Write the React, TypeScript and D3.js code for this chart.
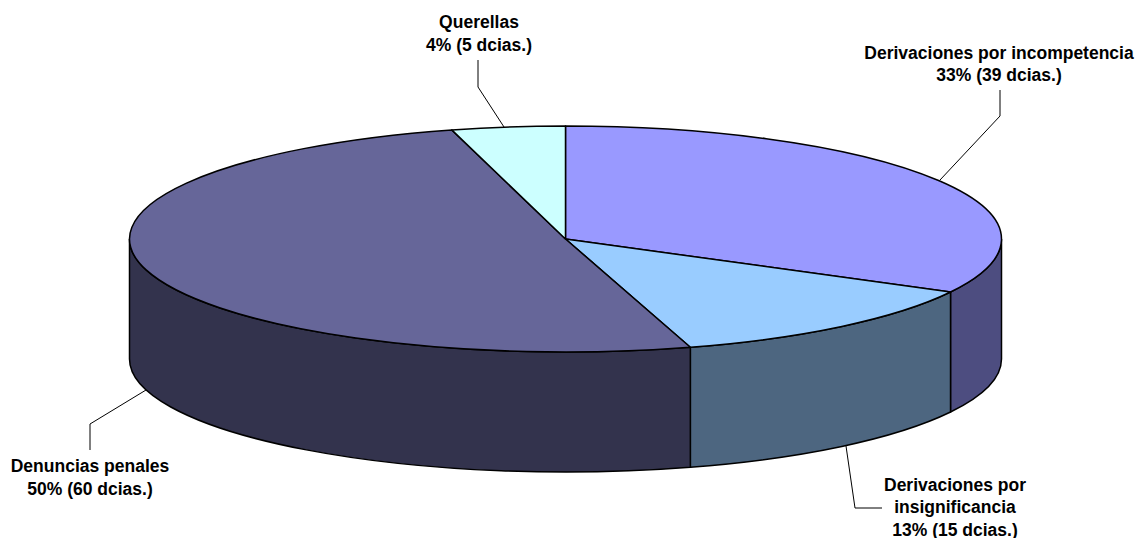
import React from "react";
import * as d3 from "d3";

const categories = [
  "Derivaciones por incompetencia",
  "Derivaciones por insignificancia",
  "Denuncias penales",
  "Querellas",
];
const counts = [39, 15, 60, 5];
const topColors = ["#9999ff", "#99ccff", "#666699", "#ccffff"];
const sideColors = ["#4d4d80", "#4d6680", "#33334d", "#668080"];

const labelLines = [
  ["Derivaciones por incompetencia", "33% (39 dcias.)"],
  ["Derivaciones por", "insignificancia", "13% (15 dcias.)"],
  ["Denuncias penales", "50% (60 dcias.)"],
  ["Querellas", "4% (5 dcias.)"],
];
const labelAnchors: [number, number][] = [
  [999, 58.5],
  [955, 490.5],
  [90, 472],
  [479, 28],
];
const leaders = [
  "M940,180 L1000,116 L1000,90",
  "M846,446 L855,508 L882,508",
  "M146,390 L90,424 L90,450",
  "M504,127 L478,87 L478,60",
];

const cx = 565.5;
const cy = 239;
const rx = 436;
const ry = 113;
const depth = 120;
const lineStep = 22.7;
const TAU = Math.PI * 2;

// Projects a pie angle (clockwise from twelve o'clock) onto the tilted ellipse.
const px = (a: number) => cx + rx * Math.sin(a);
const py = (a: number) => cy - ry * Math.cos(a);

const arcSegment = (a0: number, a1: number, dy = 0, sweep = 1) =>
  `A${rx},${ry} 0 ${Math.abs(a1 - a0) > Math.PI ? 1 : 0} ${sweep} ${px(a1)},${py(a1) + dy}`;

const topPath = (a0: number, a1: number) =>
  `M${cx},${cy} L${px(a0)},${py(a0)} ${arcSegment(a0, a1)} Z`;

// Side wall of a slice: only the part of its rim on the near half of the ellipse shows.
const sidePath = (a0: number, a1: number) => {
  const s = Math.max(a0, Math.PI / 2);
  const e = Math.min(a1, (3 * Math.PI) / 2);
  if (e <= s) return null;
  return (
    `M${px(s)},${py(s)} ${arcSegment(s, e)} L${px(e)},${py(e) + depth} ` +
    `${arcSegment(e, s, depth, 0)} Z`
  );
};

const pie = d3
  .pie<number>()
  .sort(null)
  .startAngle(0)
  .endAngle(TAU);

export default function App() {
  const slices = pie(counts);
  return (
    <svg
      width={1140}
      height={538}
      style={{ position: "absolute", left: 0, top: 0, background: "#fff" }}
      fontFamily="'Liberation Sans', Arial, sans-serif"
    >
      {slices.map((s, i) => {
        const d = sidePath(s.startAngle, s.endAngle);
        return d ? (
          <path key={categories[i]} d={d} fill={sideColors[i]} stroke="#000" strokeWidth={1.5} />
        ) : null;
      })}
      {slices.map((s, i) => (
        <path
          key={categories[i]}
          d={topPath(s.startAngle, s.endAngle)}
          fill={topColors[i]}
          stroke="#000"
          strokeWidth={1.5}
          strokeLinejoin="round"
        />
      ))}
      {leaders.map((d, i) => (
        <path key={i} d={d} fill="none" stroke="#000" strokeWidth={1} />
      ))}
      {labelLines.map((lines, i) => (
        <text
          key={i}
          x={labelAnchors[i][0]}
          y={labelAnchors[i][1]}
          textAnchor="middle"
          fontSize={17.5}
          fontWeight={700}
          fill="#000"
        >
          {lines.map((t, j) => (
            <tspan key={j} x={labelAnchors[i][0]} dy={j === 0 ? 0 : lineStep}>
              {t}
            </tspan>
          ))}
        </text>
      ))}
    </svg>
  );
}
